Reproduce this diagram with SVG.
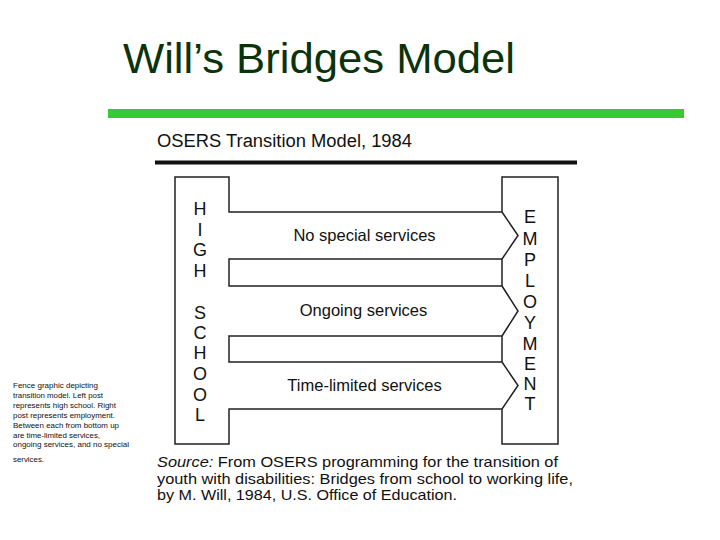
<svg xmlns="http://www.w3.org/2000/svg" width="720" height="540" viewBox="0 0 720 540">
  <style>
    .sans { font-family: "Liberation Sans", Arial, Helvetica, sans-serif; }
    .title { font-size: 43px; fill: #0a330a; }
    .head { font-size: 18px; fill: #111; }
    .post { font-size: 18px; fill: #111; text-anchor: middle; }
    .lbl { font-size: 16.5px; fill: #111; text-anchor: middle; }
    .note { font-size: 7.5px; fill: #111; }
    .src { font-size: 15px; fill: #111; }
    .ln { fill: none; stroke: #222; stroke-width: 1.5; stroke-linejoin: miter; }
  </style>
  <rect width="720" height="540" fill="#ffffff"/>

  <g id="title">
    <text class="sans title" x="123" y="73" textLength="392" lengthAdjust="spacingAndGlyphs">Will’s Bridges Model</text>
  </g>
  <g id="green-bar">
    <rect x="108" y="109" width="576" height="9" fill="#33cc33"/>
  </g>

  <g id="heading">
    <text class="sans head" x="157" y="147" textLength="255" lengthAdjust="spacingAndGlyphs">OSERS Transition Model, 1984</text>
    <rect x="155" y="160.5" width="422" height="4" fill="#111"/>
  </g>

  <g id="fence-outline">
    <path class="ln" d="M175,177 H229 V212 H502 V177 H558 V444 H502 V409 H229 V444 H175 Z"/>
  </g>

  <g id="post-high-school">
    <text class="sans post" x="200" y="214.5">H</text>
    <text class="sans post" x="200" y="235.5">I</text>
    <text class="sans post" x="200" y="255.5">G</text>
    <text class="sans post" x="200" y="276.5">H</text>
    <text class="sans post" x="200" y="318.5">S</text>
    <text class="sans post" x="200" y="338.5">C</text>
    <text class="sans post" x="200" y="358.5">H</text>
    <text class="sans post" x="200" y="379.5">O</text>
    <text class="sans post" x="200" y="400.5">O</text>
    <text class="sans post" x="200" y="421">L</text>
  </g>

  <g id="post-employment">
    <text class="sans post" x="530" y="222.5">E</text>
    <text class="sans post" x="530" y="244.5">M</text>
    <text class="sans post" x="530" y="265.5">P</text>
    <text class="sans post" x="530" y="286.5">L</text>
    <text class="sans post" x="530" y="307.5">O</text>
    <text class="sans post" x="530" y="328.5">Y</text>
    <text class="sans post" x="530" y="349.5">M</text>
    <text class="sans post" x="530" y="369.5">E</text>
    <text class="sans post" x="530" y="389.5">N</text>
    <text class="sans post" x="530" y="410">T</text>
  </g>

  <g id="connectors">
    <g id="bridge-no-special">
      <path class="ln" d="M502,212 L518,235.5 L502,259"/>
      <text class="sans lbl" x="364.5" y="241">No special services</text>
    </g>
    <path id="rail-1" class="ln" d="M229,259 H502 V286 H229 Z"/>
    <g id="bridge-ongoing">
      <path class="ln" d="M502,286 L518,311 L502,336"/>
      <text class="sans lbl" x="363.5" y="316">Ongoing services</text>
    </g>
    <path id="rail-2" class="ln" d="M229,336 H502 V362 H229 Z"/>
    <g id="bridge-time-limited">
      <path class="ln" d="M502,362 L518,385.5 L502,409"/>
      <text class="sans lbl" x="364.5" y="391">Time-limited services</text>
    </g>
  </g>

  <g id="side-note">
    <text class="sans note" x="13" y="388.3" textLength="85" lengthAdjust="spacingAndGlyphs">Fence graphic depicting</text>
    <text class="sans note" x="13" y="398.1" textLength="90" lengthAdjust="spacingAndGlyphs">transition model. Left post</text>
    <text class="sans note" x="13" y="408" textLength="103" lengthAdjust="spacingAndGlyphs">represents high school. Right</text>
    <text class="sans note" x="13" y="417.8" textLength="102" lengthAdjust="spacingAndGlyphs">post represents employment.</text>
    <text class="sans note" x="13" y="427.6" textLength="106" lengthAdjust="spacingAndGlyphs">Between each from bottom up</text>
    <text class="sans note" x="13" y="437.5" textLength="87" lengthAdjust="spacingAndGlyphs">are time-limited services,</text>
    <text class="sans note" x="13" y="447.3" textLength="116" lengthAdjust="spacingAndGlyphs">ongoing services, and no special</text>
    <text class="sans note" x="13" y="461.7" textLength="31" lengthAdjust="spacingAndGlyphs">services.</text>
  </g>

  <g id="source">
    <text class="sans src" x="157" y="467.3" textLength="401" lengthAdjust="spacingAndGlyphs"><tspan font-style="italic">Source:</tspan> From OSERS programming for the transition of</text>
    <text class="sans src" x="157" y="483.5" textLength="416" lengthAdjust="spacingAndGlyphs">youth with disabilities: Bridges from school to working life,</text>
    <text class="sans src" x="157" y="500" textLength="300" lengthAdjust="spacingAndGlyphs">by M. Will, 1984, U.S. Office of Education.</text>
  </g>
</svg>
